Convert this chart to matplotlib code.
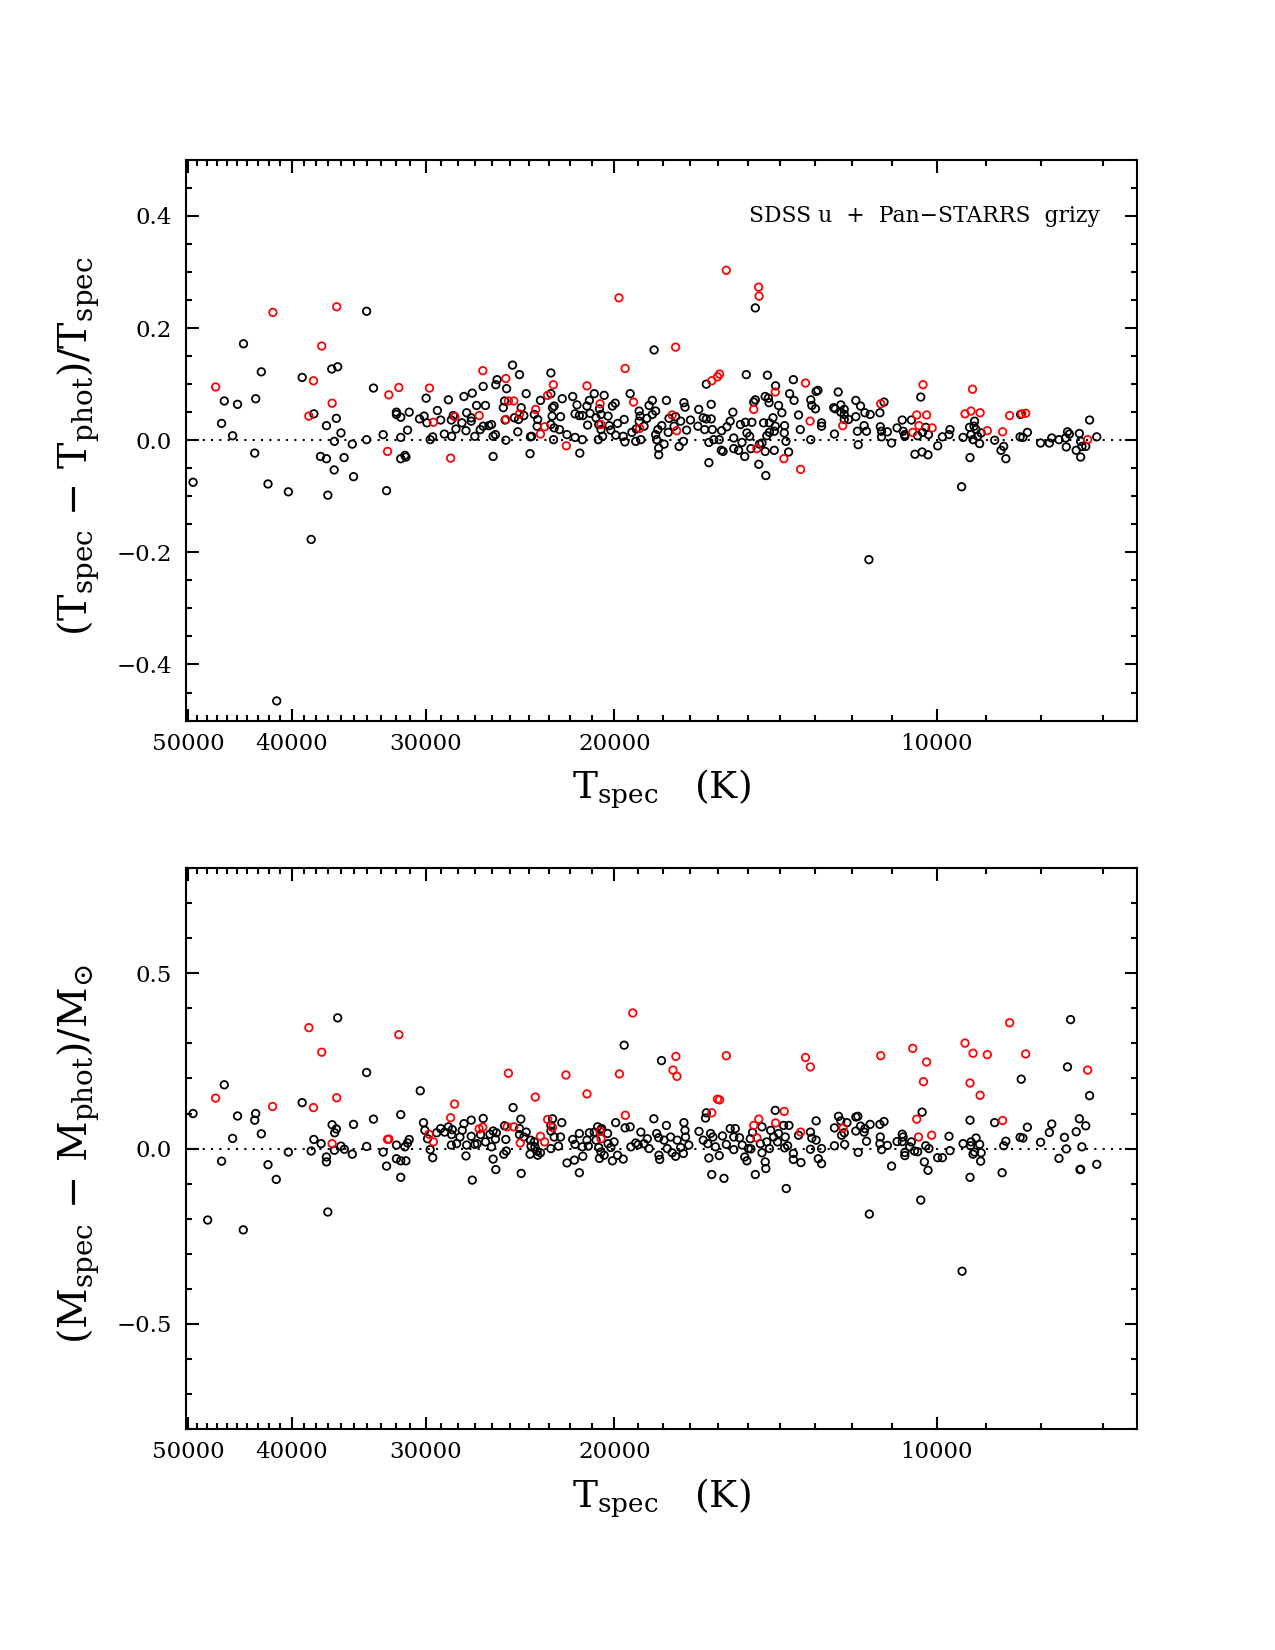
import numpy as np
import matplotlib
matplotlib.use('Agg')
import matplotlib.pyplot as plt
from matplotlib.ticker import FixedLocator, FixedFormatter, MultipleLocator, FuncFormatter

plt.rcParams['font.family'] = ['DejaVu Serif']
plt.rcParams['mathtext.fontset'] = 'dejavuserif'

# ---- top panel: (Tspec - Tphot)/Tspec vs Tspec ----
top_black_T = [
    34060, 44380, 42710, 39120, 36710, 36245, 33560, 46250, 44950, 43230,
    38150, 36350, 37130, 46520, 45430, 35990, 36500, 35125, 34060, 32870,
    31650, 31945, 31945, 31650, 31080, 31190, 29970, 29255, 28570, 30400,
    30100, 29920, 29050, 29550, 29710, 28820, 28370, 28390, 28270, 28110,
    27750, 27470, 27510, 27630, 27140, 27200, 27200, 26890, 26380, 26510,
    25800, 25730, 26990, 26680, 26510, 26190, 26040, 25950, 25820, 25950,
    43320, 37610, 37130, 35750, 31650, 31370, 31300, 36520, 35030, 42100,
    40300, 37020, 32630, 49460, 38370, 41320, 11570, 14770, 18360,
    # 25000 - 13000 K
    24890, 24520, 22920, 25210, 25320, 25390, 25290, 24790, 24570, 24290,
    24430, 24610, 25250, 24170, 23950, 23890, 23970, 23750, 23610, 23440,
    23580, 22920, 22760, 22840, 22860, 22920, 22760, 22500, 22450, 22370,
    22790, 22140, 21870, 21670, 21760, 21560, 21400, 21760, 21420, 21540,
    21180, 21210, 21100, 21070, 20880, 20650, 20580, 20800, 20680, 20580,
    20440, 20510, 20700, 20270, 20220, 20150, 20080, 19960, 19940, 19860,
    19620, 19580, 19550, 19330, 19260, 19100, 19080, 18960, 18920, 18960,
    18890, 18760, 18650, 18560, 18430, 18430, 18300, 18300, 18210, 18260,
    18180, 18180, 18060, 17970, 17880, 17780, 17810, 17590, 17530, 17400,
    17340, 17240, 17220, 17180, 17120, 16980, 16710, 16680, 16520, 16410,
    16470, 16410, 16320, 16320, 16240, 16240, 16200, 16150, 15960, 15890,
    15830, 15880, 15700, 15590, 15500, 15470, 15470, 15310, 15250, 15200,
    15110, 15060, 15090, 15040, 14950, 14880, 14910, 14820, 14770, 14660,
    14640, 14560, 14460, 14440, 14410, 14390, 14360, 14340, 14510, 14460,
    14330, 14220, 14150, 14140, 14180, 14050, 13950, 13870, 13880, 13830,
    13750, 13720, 13610, 13590, 13460, 13410, 13110, 13080, 13110, 12980,
    12960, 12910, 14180, 14330,
    # 13000 - 7000 K
    12360, 12810, 12810, 12460, 12480, 12440, 12290, 12290, 12200, 12200,
    12200, 12090, 11900, 11780, 11900, 11670, 11540, 11860, 11690, 11630,
    11840, 11300, 11200, 11290, 11260, 11260, 11120, 11020, 10890, 10770,
    10750, 10710, 10710, 10560, 10480, 10420, 10350, 10320, 10310, 10240,
    10190, 10180, 9980, 9880, 9740, 9720, 9480, 9450, 9310, 9320,
    9290, 9250, 9220, 9230, 9190, 9160, 9120, 9090, 8830, 8710,
    8660, 8620, 8360, 8310, 8350, 8230, 8000, 7850, 7810, 7690,
    7580, 7570, 7550, 7520, 7410, 7360, 7340, 7320, 7340, 7260,
    7200, 7090,
]
top_black_dT = [
    0.230, 0.172, 0.122, 0.112, 0.127, 0.131, 0.093, 0.070, 0.064, 0.074,
    0.047, 0.039, 0.026, 0.030, 0.008, 0.013, -0.002, -0.007, 0.001, 0.010,
    0.005, 0.050, 0.046, 0.041, 0.050, 0.018, 0.075, 0.053, 0.072, 0.038,
    0.043, 0.031, 0.036, 0.006, 0.001, 0.011, 0.007, 0.036, 0.044, 0.020,
    0.031, 0.049, 0.017, 0.078, 0.084, 0.040, 0.034, 0.062, 0.062, 0.096,
    0.099, 0.108, 0.007, 0.019, 0.025, 0.026, 0.028, 0.007, 0.010, -0.029,
    -0.023, -0.029, -0.033, -0.031, -0.033, -0.027, -0.030, -0.053, -0.065, -0.078,
    -0.092, -0.098, -0.090, -0.075, -0.177, -0.465, -0.213, 0.236, 0.161,
    0.134, 0.117, 0.120, 0.092, 0.070, 0.058, 0.036, 0.040, 0.037, 0.044,
    0.058, 0.015, 0.000, 0.083, 0.006, 0.007, -0.024, 0.046, 0.025, 0.071,
    0.037, 0.083, 0.061, 0.058, 0.043, 0.028, 0.022, 0.019, 0.042, 0.074,
    0.001, 0.010, 0.078, 0.063, 0.047, 0.044, 0.044, 0.005, 0.001, -0.023,
    0.027, 0.061, 0.071, 0.048, 0.083, 0.056, 0.046, 0.040, 0.028, 0.019,
    0.080, 0.007, 0.001, 0.043, 0.026, 0.018, 0.061, 0.066, 0.009, 0.030,
    0.007, 0.037, -0.003, 0.083, 0.014, -0.002, 0.020, 0.052, 0.043, 0.034,
    0.001, 0.025, 0.039, 0.062, 0.071, 0.046, 0.052, 0.010, 0.019, 0.001,
    -0.014, -0.026, 0.026, -0.007, 0.071, 0.039, 0.014, 0.025, 0.042, -0.011,
    0.034, -0.002, 0.067, 0.059, 0.018, 0.036, 0.025, 0.055, 0.040, 0.038,
    0.019, 0.100, -0.004, -0.040, 0.064, 0.038, 0.019, 0.001, 0.001, -0.018,
    -0.020, 0.017, 0.024, 0.034, 0.050, 0.004, -0.015, -0.018, 0.028, -0.004,
    -0.029, 0.117, 0.032, 0.013, 0.007, 0.032, -0.015, 0.068, 0.072, -0.043,
    -0.007, -0.005, -0.020, -0.063, 0.008, 0.116, 0.075, 0.067, 0.031, 0.078,
    0.031, 0.040, 0.025, 0.097, -0.018, 0.062, 0.049, 0.026, 0.013, -0.002,
    -0.021, 0.083, 0.108, 0.071, 0.045, 0.019, 0.072, 0.062, 0.001, 0.056,
    0.087, 0.089, 0.016, 0.014,
    0.086, 0.031, 0.025, 0.011, 0.058, 0.056, 0.063, 0.050, 0.055, 0.046,
    0.037, 0.037, 0.071, 0.061, 0.042, 0.049, 0.046, 0.016, 0.026, 0.016,
    -0.008, 0.049, 0.068, 0.024, 0.016, 0.006, 0.015, -0.005, 0.022, 0.036,
    0.016, 0.010, 0.007, 0.036, -0.025, 0.008, 0.077, -0.021, 0.014, 0.023,
    -0.026, 0.010, -0.010, 0.006, 0.010, 0.019, -0.083, 0.005, -0.031, 0.023,
    0.010, 0.001, 0.034, 0.025, 0.019, 0.007, -0.006, 0.013, 0.000, -0.018,
    -0.011, -0.033, 0.006, 0.005, 0.046, 0.014, -0.005, -0.005, 0.004, 0.001,
    0.004, -0.012, 0.015, 0.011, -0.018, 0.012, -0.002, -0.011, -0.030, -0.011,
    0.036, 0.006,
]
top_red_T = [
    41660, 36320, 37510, 38180, 47120, 36680, 38560, 32470, 31780, 29755,
    29505, 26530, 26740, 32560, 28430, 28170,
    25250, 25110, 24820, 25250, 24520, 23680, 23440, 23230, 23080, 22800,
    22170, 21210, 20620, 20580, 19190, 18940, 17660, 17490, 16220, 16020,
    15950, 14820, 14720, 14150, 13890, 13400, 13260, 13130,
    15720, 14665, 14650, 19800, 17530, 19540,
    12240, 11280, 10300, 10440, 10220, 10390, 10100, 10530, 9260, 9410,
    9290, 9110, 8970, 8680, 8550, 8330, 8260, 7230,
]
top_red_dT = [
    0.228, 0.238, 0.168, 0.106, 0.095, 0.066, 0.043, 0.081, 0.094, 0.093,
    0.032, 0.124, 0.044, -0.020, -0.032, 0.042,
    0.110, 0.070, 0.070, 0.037, 0.047, 0.055, 0.011, 0.024, 0.080, 0.099,
    -0.010, 0.097, 0.065, 0.028, 0.068, 0.021, 0.045, 0.017, 0.106, 0.113,
    0.118, 0.055, -0.015, 0.086, -0.033, -0.052, 0.102, 0.034,
    0.303, 0.273, 0.257, 0.254, 0.166, 0.128,
    0.026, 0.065, 0.099, 0.045, 0.045, 0.026, 0.022, 0.014, 0.091, 0.047,
    0.052, 0.049, 0.017, 0.015, 0.044, 0.047, 0.048, 0.001,
]

# ---- bottom panel: (Mspec - Mphot)/Msun vs Tspec ----
bot_black_T = [
    36245, 34060, 46250, 49460, 44950, 43230, 43320, 45430, 42710, 46520,
    42100, 41360, 40300, 39120, 38370, 38150, 37560, 37130, 37130, 36680,
    36350, 36480, 36500, 35990, 35730, 35125, 35030, 34060, 33560, 32870,
    32630, 31945, 31945, 31650, 31300, 31650, 31650, 31370, 31190, 31080,
    30350, 30140, 30050, 29880, 29710, 29550, 29300, 29050, 28800, 28570,
    28370, 28330, 28390, 28070, 27870, 27730, 27630, 27200, 27470, 27510,
    27200, 27140, 26990, 26850, 26660, 26510, 26380, 26130, 26040, 25950,
    25770, 25820, 25950, 25800, 37020, 47930, 44400,
    # 25000 - 13000 K
    24860, 24450, 25320, 25250, 25360, 25230, 24520, 24520, 24290, 24170,
    23950, 23920, 23970, 23750, 23720, 23610, 23580, 23440, 22840, 22920,
    22920, 22760, 22920, 22550, 22450, 22390, 24430, 22140, 21870, 21760,
    21790, 21560, 21420, 21400, 21560, 21210, 21150, 21100, 20880, 20730,
    20580, 20800, 20680, 20580, 20650, 20440, 20550, 20290, 20270, 20150,
    20010, 19940, 19860, 20080, 19620, 19580, 19540, 19330, 19300, 19100,
    19000, 18890, 18760, 18630, 18560, 18370, 18260, 18180, 18170, 18140,
    18070, 17880, 17970, 17850, 17720, 17660, 17530, 17470, 17340, 17240,
    17220, 17180, 17160, 17040, 16670, 16520, 16440, 16410, 16360, 16320,
    16260, 16220, 16180, 16090, 15960, 15850, 15800, 15720, 15590, 15470,
    15470, 15420, 15280, 15190, 15110, 15040, 14990, 14930, 14860, 14910,
    14770, 14610, 14560, 14560, 14460, 14440, 14410, 14330, 14290, 14150,
    14200, 14080, 14050, 13900, 13850, 13870, 13820, 13740, 13780, 13610,
    13610, 13460, 13390, 13120, 13080, 13120, 12960, 12960, 12900,
    # 13000 - 7000 K
    12810, 12810, 12460, 12350, 12290, 12130, 12270, 12200, 12190, 12460,
    11900, 11850, 11900, 11780, 11670, 11690, 11540, 11630, 11840, 11300,
    11200, 11290, 11300, 11260, 11120, 11020, 10890, 10770, 10750, 10770,
    10710, 10710, 10560, 10600, 10490, 10420, 10320, 10240, 10270, 10190,
    10170, 9980, 9880, 9740, 9720, 9450, 9310, 9290, 9300, 9250,
    9220, 9190, 9120, 9100, 9090, 9310, 8830, 8690, 8660, 8620,
    8360, 8310, 8230, 8340, 8000, 7850, 7810, 7690, 7600, 7570,
    7550, 7410, 7360, 7340, 7350, 7320, 7260, 7200, 7090, 11560,
    10350, 7500, 9470,
]
bot_black_dM = [
    0.373, 0.217, 0.182, 0.100, 0.093, 0.100, 0.081, 0.029, 0.042, -0.036,
    -0.046, -0.088, -0.010, 0.131, -0.007, 0.026, 0.014, -0.024, -0.038, 0.068,
    0.056, 0.045, -0.005, 0.007, -0.002, -0.016, 0.069, 0.006, 0.084, -0.010,
    -0.050, 0.010, -0.029, -0.035, -0.035, 0.097, -0.082, 0.005, 0.016, 0.026,
    0.165, 0.074, 0.052, 0.028, -0.003, -0.026, 0.045, 0.057, 0.047, 0.062,
    0.040, 0.054, 0.010, 0.014, 0.033, 0.052, 0.071, 0.081, 0.010, -0.021,
    0.035, -0.090, 0.012, 0.014, 0.040, 0.086, 0.019, 0.041, 0.005, 0.050,
    0.045, 0.027, -0.030, -0.060, -0.181, -0.204, -0.232,
    0.117, 0.084, 0.065, 0.026, -0.016, -0.007, 0.057, 0.040, 0.033, 0.047,
    0.024, 0.007, -0.016, 0.019, 0.005, -0.007, -0.019, -0.012, 0.085, 0.066,
    0.050, 0.033, 0.000, 0.007, 0.033, 0.074, -0.071, -0.041, 0.026, 0.012,
    -0.033, 0.043, 0.005, -0.022, -0.069, 0.024, 0.007, 0.045, 0.047, 0.062,
    0.054, 0.024, 0.003, -0.010, -0.028, -0.019, 0.057, 0.043, 0.014, 0.003,
    0.019, 0.074, -0.019, -0.035, -0.030, 0.295, 0.059, 0.062, 0.005, 0.016,
    0.011, 0.047, 0.014, 0.028, 0.000, 0.085, 0.043, 0.031, -0.019, -0.031,
    0.251, 0.066, 0.024, 0.000, 0.033, -0.012, -0.022, 0.024, 0.003, -0.014,
    0.074, 0.052, 0.033, 0.010, 0.049, 0.024, 0.087, 0.102, 0.014, -0.027,
    0.043, -0.074, 0.033, 0.005, -0.020, 0.036, -0.085, 0.012, 0.057, 0.033,
    -0.003, 0.057, 0.031, 0.010, -0.024, -0.035, 0.000, 0.028, 0.046, -0.001,
    -0.074, 0.014, 0.062, -0.012, -0.038, -0.057, 0.019, 0.000, 0.052, 0.109,
    0.033, 0.019, 0.043, 0.066, 0.033, 0.002, -0.114, 0.066, 0.008, -0.014,
    -0.031, 0.038, -0.040, 0.047, 0.030, -0.002, 0.079, 0.024, -0.029,
    -0.043, 0.000, 0.059, 0.092, 0.079, 0.074, 0.038, 0.045, 0.012, 0.008,
    0.090, 0.092, 0.050, 0.064, 0.057, 0.047, 0.069, 0.021, -0.011, 0.069,
    0.077, 0.033, 0.014, -0.003, 0.009, -0.050, 0.020, 0.041, 0.033, 0.020,
    -0.020, -0.011, 0.019, 0.005, -0.007, -0.009, 0.104, 0.008, -0.038, -0.062,
    0.000, -0.026, -0.026, 0.035, -0.006, 0.014, 0.081, 0.019, 0.008, -0.016,
    -0.010, 0.030, 0.012, -0.036, -0.012, -0.082, 0.074, -0.069, 0.008, 0.021,
    0.032, 0.030, 0.061, 0.198, 0.018, 0.046, 0.070, -0.028, 0.032, -0.001,
    0.233, 0.048, 0.085, -0.059, -0.060, 0.005, 0.065, 0.151, -0.045, -0.187,
    -0.147, 0.368, -0.350,
]
bot_red_T = [
    38560, 37510, 31780, 47120, 41690, 38180, 36320, 36680, 32560, 32470,
    28430, 28190, 29780, 29505, 26740, 26530,
    25110, 25180, 24820, 24480, 23700, 23440, 23230, 23080, 22840, 22190,
    21210, 20620, 20580, 19780, 19530, 19220, 17520, 17630, 17480, 16020,
    15950, 16220, 15720, 14820, 14660, 14720, 14140, 13880, 13400, 13260,
    13120,
    12230, 11280, 10530, 10220, 10290, 10440, 10400, 10110, 9410, 9250,
    8970, 9310, 9110, 8680, 8550, 8260, 7230,
]
bot_red_dM = [
    0.345, 0.275, 0.325, 0.144, 0.120, 0.117, 0.145, 0.014, 0.026, 0.027,
    0.088, 0.127, 0.041, 0.019, 0.056, 0.061,
    0.215, 0.062, 0.062, 0.016, 0.147, 0.035, 0.019, 0.083, 0.060, 0.210,
    0.156, 0.049, 0.028, 0.213, 0.095, 0.387, 0.263, 0.224, 0.206, 0.141,
    0.139, 0.102, 0.265, 0.066, 0.084, 0.031, 0.073, 0.106, 0.047, 0.260,
    0.233,
    0.059, 0.265, 0.286, 0.247, 0.191, 0.084, 0.033, 0.038, 0.301, 0.272,
    0.268, 0.187, 0.152, 0.080, 0.359, 0.270, 0.224,
]

x_major = [50000, 40000, 30000, 20000, 10000]
x_labels = ['50000', '40000', '30000', '20000', '10000']
x_minor = [t for t in range(7000, 50000, 1000) if t not in x_major]


def fmt_y(v, pos):
    # real minus sign, like the original
    return ('%.1f' % v).replace('-', '\u2212')


def style_axis(ax, ylim, ymajor, yminor):
    ax.set_xscale('log')
    ax.set_xlim(50200, 6500)
    ax.set_ylim(*ylim)
    ax.xaxis.set_major_locator(FixedLocator(x_major))
    ax.xaxis.set_major_formatter(FixedFormatter(x_labels))
    ax.xaxis.set_minor_locator(FixedLocator(x_minor))
    ax.xaxis.set_minor_formatter(FixedFormatter([]))
    ax.yaxis.set_major_locator(MultipleLocator(ymajor))
    ax.yaxis.set_minor_locator(MultipleLocator(yminor))
    ax.yaxis.set_major_formatter(FuncFormatter(fmt_y))
    ax.tick_params(which='both', direction='in', top=True, right=True,
                   labelsize=11, width=1.0)
    ax.tick_params(which='major', length=6)
    ax.tick_params(which='minor', length=3)
    ax.tick_params(axis='x', pad=6)
    ax.tick_params(axis='y', pad=7)
    for s in ax.spines.values():
        s.set_linewidth(1.0)
    ax.axhline(0, color='k', lw=1.0, ls=(0, (1, 3)), zorder=1)


fig = plt.figure(figsize=(8.5, 11), dpi=150)
ax1 = fig.add_axes([0.146, 0.5633, 0.7459, 0.3398])
ax2 = fig.add_axes([0.146, 0.134, 0.7459, 0.3398])

mk = dict(s=13, facecolors='none', linewidths=0.85, zorder=3)

ax1.scatter(top_black_T, top_black_dT, edgecolors='black', **mk)
ax1.scatter(top_red_T, top_red_dT, edgecolors='red', **mk)
style_axis(ax1, (-0.5, 0.5), 0.2, 0.05)
ax1.text(0.961, 0.9, 'SDSS u  +  Pan\u2212STARRS  grizy', transform=ax1.transAxes,
         ha='right', va='center', fontsize=10.5)
ax1.set_ylabel(r'$(\mathrm{T_{spec}}\,-\,\mathrm{T_{phot}})/\mathrm{T_{spec}}$',
               fontsize=19)
ax1.set_xlabel(r'$\mathrm{T_{spec}}\quad(\mathrm{K})$', fontsize=18)

ax2.scatter(bot_black_T, bot_black_dM, edgecolors='black', **mk)
ax2.scatter(bot_red_T, bot_red_dM, edgecolors='red', **mk)
style_axis(ax2, (-0.8, 0.8), 0.5, 0.1)
ax2.set_ylabel(r'$(\mathrm{M_{spec}}\,-\,\mathrm{M_{phot}})/\mathrm{M_{\odot}}$',
               fontsize=19)
ax2.set_xlabel(r'$\mathrm{T_{spec}}\quad(\mathrm{K})$', fontsize=18)

for ax in (ax1, ax2):
    ax.yaxis.set_label_coords(-0.088, 0.49)
    ax.xaxis.set_label_coords(0.5, -0.085)

fig.savefig('out.png', dpi=150)
